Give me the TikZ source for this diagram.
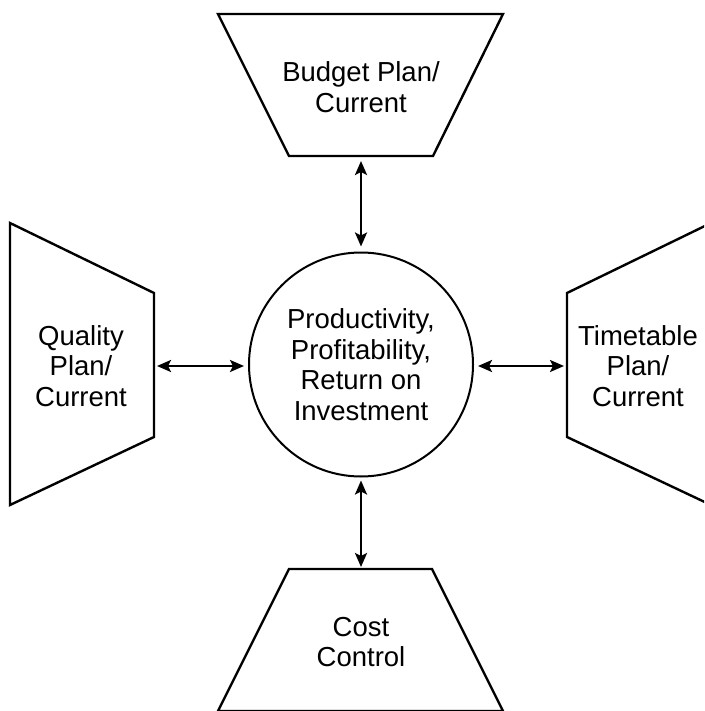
\documentclass[tikz,border=0pt]{standalone}
\usepackage{fontspec}
\setmainfont{Liberation Sans}
\usetikzlibrary{arrows.meta}
\begin{document}
\begin{tikzpicture}[x=1pt,y=-1pt,
  shapeline/.style={draw=black,line width=2.4pt,line join=miter},
  lbl/.style={align=center,font=\fontsize{27.5}{30.5}\selectfont,text=black,inner sep=0pt},
  link/.style={line width=2.4pt,{Stealth[length=14pt,width=12pt,inset=3pt]}-{Stealth[length=14pt,width=12pt,inset=3pt]}}]
\clip (0,0) rectangle (704,711);
\fill[white] (0,0) rectangle (704,711);
% trapezoids
\draw[shapeline] (218,14) -- (503,14) -- (433,156) -- (289,156) -- cycle;
\draw[shapeline] (10,223) -- (154,293) -- (154,437) -- (10,505) -- cycle;
\draw[shapeline] (711,223) -- (567,293) -- (567,437) -- (711,505) -- cycle;
\draw[shapeline] (289,569) -- (432,569) -- (503,711) -- (218,711) -- cycle;
% anchor points on the shapes
\coordinate (tb) at (361,156);
\coordinate (lb) at (154,366);
\coordinate (rb) at (567,366);
\coordinate (bb) at (361,569);
% labels
\node[lbl] (budget) at (361,87) {Budget Plan/\\Current};
\node[lbl] (quality) at (81,366) {Quality\\Plan/\\Current};
\node[lbl] (timetable) at (638,366) {Timetable\\Plan/\\Current};
\node[lbl] (cost) at (361,642) {Cost\\Control};
% centre
\node[circle,draw=black,line width=2pt,minimum size=224pt,inner sep=0pt,
      align=center,font=\fontsize{27.5}{30.5}\selectfont,text=black] (prod) at (361,364.5)
  {Productivity,\\Profitability,\\Return on\\Investment};
% connectors
\draw[link,shorten <=5pt,shorten >=5pt] (tb) -- (prod.north);
\draw[link,shorten <=3pt,shorten >=4pt] (lb) -- (prod.west |- lb);
\draw[link,shorten <=3pt,shorten >=4pt] (rb) -- (prod.east |- rb);
\draw[link,shorten <=2pt,shorten >=3pt] (bb) -- (prod.south);
\end{tikzpicture}
\end{document}
